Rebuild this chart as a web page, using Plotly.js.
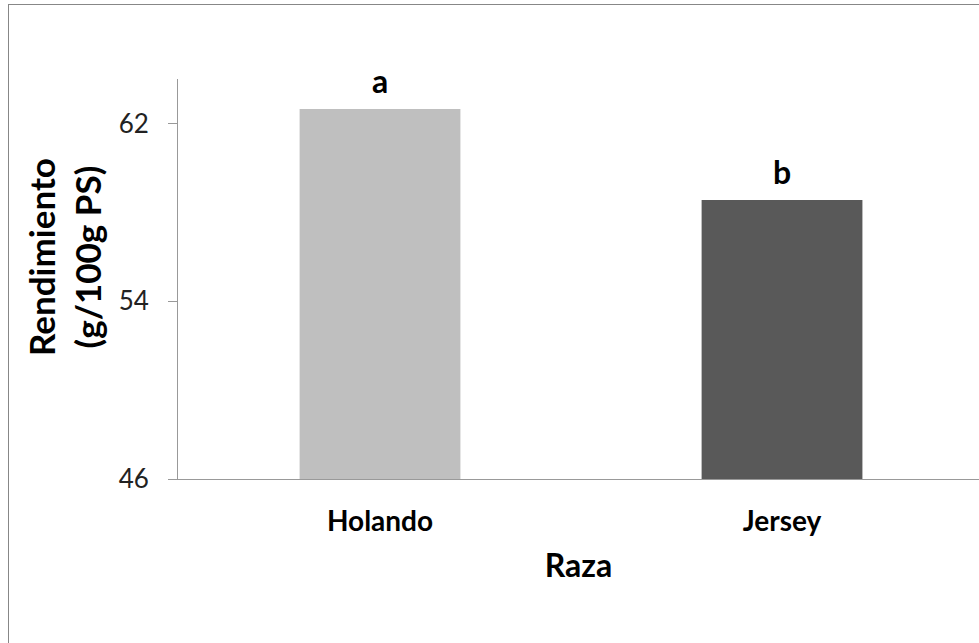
<!DOCTYPE html>
<html>
<head>
<meta charset="utf-8">
<script src="https://cdn.plot.ly/plotly-3.0.1.min.js"></script>
<style>
  html, body { margin: 0; padding: 0; background: #fff; overflow: hidden; }
  #wrap { position: relative; width: 979px; height: 643px; }
  #chart { position: absolute; left: 0; top: 0; width: 979px; height: 643px; }
  #frame { position: absolute; left: 8px; top: 4px; width: 1000px; height: 700px;
           border-left: 1px solid #878787; border-top: 1px solid #878787; pointer-events: none; }
</style>
</head>
<body>
<div id="wrap">
  <div id="chart"></div>
  <div id="frame"></div>
</div>
<script>
// Data
const categories = ["Holando", "Jersey"];
const values = [62.65, 58.55];
const letters = ["a", "b"];
const barColors = ["#bfbfbf", "#595959"];
const yTicks = [46, 54, 62];
const xTitle = "Raza";
const yTitle = "Rendimiento<br>(g/100g PS)";

const FONT = "Lato, 'Open Sans', sans-serif";

const trace = {
  type: "bar",
  x: categories,
  y: values,
  width: 0.4,
  marker: { color: barColors, line: { width: 0 } },
  hoverinfo: "skip",
  showlegend: false
};

const annotations = categories.map((c, i) => ({
  x: c, y: values[i], xref: "x", yref: "y",
  text: "<b>" + letters[i] + "</b>",
  showarrow: false, yanchor: "bottom", yshift: 7,
  font: { family: FONT, size: 32, color: "#000" }
}));

// y-axis title (placed slightly above the plot middle, as in the reference)
annotations.push({
  xref: "paper", yref: "paper", x: 0, y: 0.555,
  xanchor: "center", yanchor: "middle", xshift: -114,
  textangle: -90, showarrow: false,
  text: "<b>" + yTitle + "</b>",
  font: { family: FONT, size: 35, color: "#000" }
});

const layout = {
  width: 979, height: 643,
  margin: { l: 178, r: 0, t: 79, b: 164 },
  paper_bgcolor: "#fff", plot_bgcolor: "#fff",
  showlegend: false,
  font: { family: FONT },
  xaxis: {
    type: "category",
    range: [-0.5025, 1.49],
    showline: true, linecolor: "#999", linewidth: 1,
    ticks: "", showgrid: false, zeroline: false,
    tickfont: { family: FONT, size: 28, color: "#000", weight: "bold" },
    ticklabelstandoff: 17,
    title: { text: "<b>" + xTitle + "</b>", font: { family: FONT, size: 32, color: "#000" }, standoff: 19 }
  },
  yaxis: {
    range: [46, 64],
    tickvals: yTicks,
    ticktext: yTicks.map(String),
    showline: true, linecolor: "#999", linewidth: 1,
    ticks: "outside", ticklen: 9, tickcolor: "#999", tickwidth: 1,
    showgrid: false, zeroline: false,
    tickfont: { family: FONT, size: 26, color: "#222" },
    ticklabelstandoff: 14
  },
  annotations: annotations
};

Plotly.newPlot("chart", [trace], layout, { displayModeBar: false, staticPlot: true });
</script>
</body>
</html>
